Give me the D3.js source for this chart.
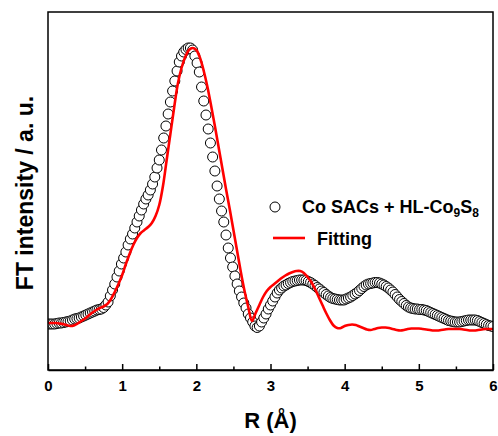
<!DOCTYPE html>
<html><head><meta charset="utf-8">
<script src="https://cdn.jsdelivr.net/npm/d3@7"></script>
<style>
body{margin:0;background:#fff}
text{font-family:"Liberation Sans",Arial,Helvetica,sans-serif;font-weight:bold;fill:#000}
</style>
</head><body>
<svg id="chart" width="498" height="436"></svg>
<script>
// Experimental FT magnitude (a.u.), sampled every 0.03 Å from R = 0 to 6 Å
const expStep = 0.03;
const expValues = [
0.230,0.230,0.230,0.230,0.2325,0.235,0.235,0.2375,0.240,0.2425,
0.245,0.250,0.255,0.2575,0.260,0.265,0.270,0.275,0.280,0.285,
0.290,0.295,0.300,0.3025,0.305,0.3125,0.325,0.340,0.370,0.400,
0.430,0.465,0.495,0.530,0.560,0.590,0.625,0.655,0.680,0.710,
0.740,0.770,0.800,0.830,0.855,0.875,0.900,0.930,0.965,1.010,
1.050,1.100,1.160,1.220,1.280,1.340,1.395,1.445,1.495,1.540,
1.570,1.590,1.6025,1.610,1.610,1.600,1.570,1.535,1.490,1.415,
1.345,1.275,1.205,1.135,1.065,0.995,0.920,0.855,0.795,0.740,
0.675,0.610,0.560,0.515,0.470,0.430,0.395,0.365,0.335,0.310,
0.280,0.260,0.240,0.220,0.2125,0.220,0.240,0.260,0.280,0.305,
0.325,0.345,0.365,0.385,0.400,0.410,0.420,0.425,0.4325,0.4375,
0.4425,0.445,0.4475,0.450,0.450,0.450,0.4475,0.4425,0.4375,0.430,
0.4225,0.4125,0.405,0.395,0.3875,0.3775,0.370,0.3625,0.3575,0.355,
0.3525,0.350,0.350,0.350,0.355,0.360,0.365,0.3725,0.380,0.3875,
0.3975,0.4075,0.4175,0.425,0.430,0.4325,0.435,0.4375,0.4375,0.435,
0.430,0.425,0.4175,0.410,0.400,0.390,0.3775,0.365,0.3525,0.3425,
0.3325,0.3225,0.315,0.310,0.3075,0.305,0.305,0.3025,0.3025,0.300,
0.2975,0.2925,0.2875,0.2825,0.2775,0.2725,0.2675,0.2625,0.2575,0.2525,
0.2475,0.245,0.2425,0.240,0.240,0.240,0.2425,0.245,0.2475,0.250,
0.250,0.250,0.250,0.2475,0.2425,0.2375,0.2325,0.2275,0.2225,0.220,
0.2175
];
// Fitting curve (a.u.), sampled every 0.05 Å
const fitStep = 0.05;
const fitValues = [
0.235,0.235,0.235,0.2325,0.230,0.225,0.220,0.2225,0.2325,0.245,
0.2575,0.2725,0.2875,0.300,0.310,0.3175,0.330,0.355,0.390,0.430,
0.475,0.530,0.580,0.625,0.660,0.685,0.700,0.715,0.735,0.770,
0.825,0.920,1.050,1.180,1.310,1.430,1.510,1.565,1.600,1.610,
1.600,1.560,1.495,1.415,1.320,1.220,1.115,1.010,0.905,0.805,
0.700,0.595,0.490,0.395,0.315,0.245,0.285,0.325,0.365,0.395,
0.415,0.430,0.445,0.460,0.4725,0.4825,0.490,0.495,0.495,0.485,
0.465,0.440,0.405,0.365,0.325,0.285,0.250,0.2225,0.210,0.210,
0.220,0.225,0.2275,0.225,0.2175,0.210,0.2025,0.200,0.205,0.210,
0.2125,0.2125,0.210,0.205,0.200,0.1975,0.200,0.205,0.2075,0.2075,
0.2075,0.205,0.2025,0.200,0.1975,0.1975,0.200,0.2025,0.205,0.205,
0.205,0.205,0.2025,0.200,0.1975,0.1975,0.200,0.2025,0.205,0.205,
0.205
];
const xTicks = [0,1,2,3,4,5,6];
const xMinorTicks = [0.5,1.5,2.5,3.5,4.5,5.5];
const xDomain = [0,6];
const yDomain = [0,1.79];
const seriesNames = ["Co SACs + HL-Co", "9", "S", "8"];
const fitName = "Fitting";
const xTitle = "R (Å)";
const yTitle = "FT intensity / a. u.";

const expData = expValues.map((v,i)=>({r:+(i*expStep).toFixed(3), v}));
const fitData = fitValues.map((v,i)=>({r:+(i*fitStep).toFixed(3), v}));

const svg = d3.select("#chart");
const m = {l:48, t:12, r:5, b:66};
const W = 498, H = 436;
const x = d3.scaleLinear().domain(xDomain).range([m.l, W-m.r]);
const y = d3.scaleLinear().domain(yDomain).range([H-m.b, m.t]);

svg.append("defs").append("clipPath").attr("id","clip")
  .append("rect").attr("x",m.l).attr("y",m.t)
  .attr("width",x.range()[1]-m.l).attr("height",y.range()[0]-m.t);

const plot = svg.append("g").attr("clip-path","url(#clip)");
plot.selectAll("circle.exp").data(expData).join("circle")
  .attr("class","exp")
  .attr("cx",d=>x(d.r)).attr("cy",d=>y(d.v)).attr("r",5)
  .attr("fill","#fff").attr("stroke","#000").attr("stroke-width",1);

plot.append("path").datum(fitData)
  .attr("fill","none").attr("stroke","#ff0000").attr("stroke-width",2.6)
  .attr("stroke-linejoin","round")
  .attr("d", d3.line().x(d=>x(d.r)).y(d=>y(d.v)).curve(d3.curveCatmullRom.alpha(0.5)));

// frame
svg.append("rect").attr("x",m.l).attr("y",m.t)
  .attr("width",x.range()[1]-m.l).attr("height",y.range()[0]-m.t)
  .attr("fill","none").attr("stroke","#000").attr("stroke-width",1.5);

// x axis (ticks inward)
const gx = svg.append("g").attr("transform",`translate(0,${y.range()[0]})`)
  .call(d3.axisBottom(x).tickValues(xTicks).tickSize(-6).tickSizeOuter(0).tickPadding(10).tickFormat(d3.format("d")));
gx.select(".domain").attr("stroke-width",1.5);
gx.selectAll(".tick line").attr("stroke-width",1.5);
gx.selectAll("text").style("font-size","15px").style("font-family","Liberation Sans, Arial, sans-serif").style("font-weight","bold").attr("fill","#000");
const gxm = svg.append("g").attr("transform",`translate(0,${y.range()[0]})`)
  .call(d3.axisBottom(x).tickValues(xMinorTicks).tickSize(-3.5).tickSizeOuter(0).tickFormat(""));
gxm.select(".domain").remove();
gxm.selectAll(".tick line").attr("stroke-width",1.5);

// titles
svg.append("text").attr("x",(m.l+x.range()[1])/2).attr("y",428)
  .attr("text-anchor","middle").style("font-size","22px").text(xTitle);
svg.append("text").attr("transform",`translate(33,${(m.t+y.range()[0])/2+2}) rotate(-90)`)
  .attr("text-anchor","middle").style("font-size","23px").text(yTitle);

// legend
const lg = svg.append("g");
lg.append("circle").attr("cx",275).attr("cy",207).attr("r",5)
  .attr("fill","#fff").attr("stroke","#000").attr("stroke-width",1);
const t1 = lg.append("text").attr("x",302).attr("y",213).style("font-size","18px");
t1.append("tspan").text(seriesNames[0]);
t1.append("tspan").attr("dy",4).style("font-size","12px").text(seriesNames[1]);
t1.append("tspan").attr("dy",-4).text(seriesNames[2]);
t1.append("tspan").attr("dy",4).style("font-size","12px").text(seriesNames[3]);
lg.append("line").attr("x1",273).attr("x2",305).attr("y1",238).attr("y2",238)
  .attr("stroke","#ff0000").attr("stroke-width",2.6);
lg.append("text").attr("x",317).attr("y",245).style("font-size","18px").text(fitName);
</script>
</body></html>
